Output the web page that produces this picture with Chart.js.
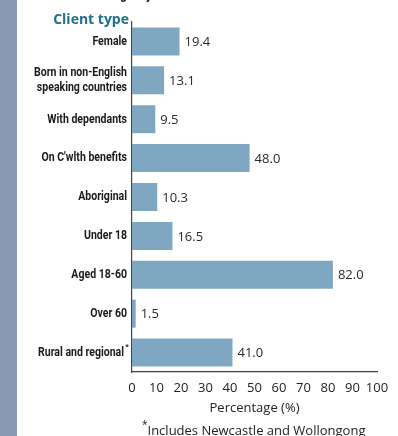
<!DOCTYPE html>
<html>
<head>
<meta charset="utf-8">
<script src="https://cdn.jsdelivr.net/npm/chart.js@4.4.0/dist/chart.umd.min.js"></script>
<style>
  html, body { margin: 0; padding: 0; background: #fff; }
  #wrap { position: relative; width: 398px; height: 436px; overflow: hidden; }
  #strip { position: absolute; left: 0; top: 0; width: 17px; height: 436px; background: #8a98b4; }
  #heading { position: absolute; left: 112px; top: -14px; font: bold 14px Roboto, sans-serif; color: #111;
             transform: scaleX(0.85); transform-origin: left top; white-space: nowrap; }
  #group { position: absolute; right: 269px; top: 9px; font: bold 14px 'Open Sans', sans-serif; color: #1f6f8d; }
  #note { position: absolute; left: 142px; top: 419px; font: 13px 'Open Sans', sans-serif; color: #222; white-space: nowrap; }
  #note sup { font-size: 10px; position: relative; top: -2px; }
  canvas { position: absolute; left: 0; top: 0; }
</style>
</head>
<body>
<div id="wrap">
  <canvas id="clientChart" width="398" height="436"></canvas>
  <div id="strip"></div>
  <div id="heading">Agency services</div>
  <div id="group">Client type</div>
  <div id="note"><sup>*</sup>Includes Newcastle and Wollongong</div>
</div>
<script>
const categories = [
    'Female',
    ['Born in non-English', 'speaking countries'],
    'With dependants',
    "On C'wlth benefits",
    'Aboriginal',
    'Under 18',
    'Aged 18-60',
    'Over 60',
    'Rural and regional'
];
const percentages = [19.4, 13.1, 9.5, 48.0, 10.3, 16.5, 82.0, 1.5, 41.0];
const xTicks = [0, 10, 20, 30, 40, 50, 60, 70, 80, 90, 100];
const footnoted = ['Rural and regional'];

const labelFont = 'bold 13.5px Roboto, sans-serif';
const textFont = "'Open Sans', sans-serif";
const squeeze = 0.78; // no condensed face is installed, so narrow the glyphs by hand

// Category names, drawn narrow at each tick of the y scale
const categoryLabels = {
    id: 'categoryLabels',
    afterDraw(chart) {
        const ctx = chart.ctx;
        const yScale = chart.scales.y;
        const right = chart.chartArea.left - 5;
        ctx.save();
        ctx.fillStyle = '#1a1a1a';
        ctx.textBaseline = 'middle';
        ctx.textAlign = 'right';
        categories.forEach((label, i) => {
            const lines = Array.isArray(label) ? label : [label];
            const y = yScale.getPixelForTick(i);
            let x = right;
            if (footnoted.includes(lines[0])) {
                ctx.font = 'bold 8px Roboto, sans-serif';
                ctx.fillText('*', right + 2, y - 6);
                x = right - 3;
            }
            ctx.font = labelFont;
            lines.forEach((line, j) => {
                const ly = y + (j - (lines.length - 1) / 2) * 15;
                ctx.save();
                ctx.translate(x, ly);
                ctx.scale(squeeze, 1);
                ctx.fillText(line, 0, 0);
                ctx.restore();
            });
        });
        ctx.restore();
    }
};

// Numbers at the end of each bar
const valueLabels = {
    id: 'valueLabels',
    afterDatasetsDraw(chart) {
        const ctx = chart.ctx;
        const meta = chart.getDatasetMeta(0);
        ctx.save();
        ctx.font = '13px ' + textFont;
        ctx.fillStyle = '#2a2a2a';
        ctx.textAlign = 'left';
        ctx.textBaseline = 'middle';
        meta.data.forEach((bar, i) => {
            ctx.fillText(percentages[i].toFixed(1), bar.x + 5, bar.y + 1);
        });
        ctx.restore();
    }
};

new Chart(document.getElementById('clientChart').getContext('2d'), {
    type: 'bar',
    data: {
        labels: categories,
        datasets: [{
            data: percentages,
            backgroundColor: '#80a7c1',
            borderWidth: 0,
            categoryPercentage: 1,
            barPercentage: 0.72
        }]
    },
    options: {
        indexAxis: 'y',
        responsive: false,
        animation: false,
        devicePixelRatio: 1,
        layout: { padding: { top: 22, right: 21, bottom: 20, left: 0 } },
        plugins: {
            legend: { display: false },
            tooltip: { enabled: false }
        },
        scales: {
            x: {
                min: 0,
                max: 100,
                afterBuildTicks(scale) {
                    scale.ticks = xTicks.map(v => ({ value: v }));
                },
                afterFit(scale) { scale.height = 44; },
                grid: { display: false, drawTicks: false },
                border: { display: true, color: '#444', width: 1.2 },
                ticks: {
                    padding: 8,
                    color: '#222',
                    maxRotation: 0,
                    minRotation: 0,
                    autoSkip: false,
                    font: { family: textFont, size: 13 }
                },
                title: {
                    display: true,
                    text: 'Percentage (%)',
                    color: '#222',
                    font: { family: textFont, size: 13 },
                    padding: { top: 0, bottom: 0 }
                }
            },
            y: {
                afterFit(scale) { scale.width = 132; },
                grid: { display: false, drawTicks: false },
                border: { display: true, color: '#444', width: 1.2 },
                ticks: { display: false }
            }
        }
    },
    plugins: [valueLabels, categoryLabels]
});
</script>
</body>
</html>
